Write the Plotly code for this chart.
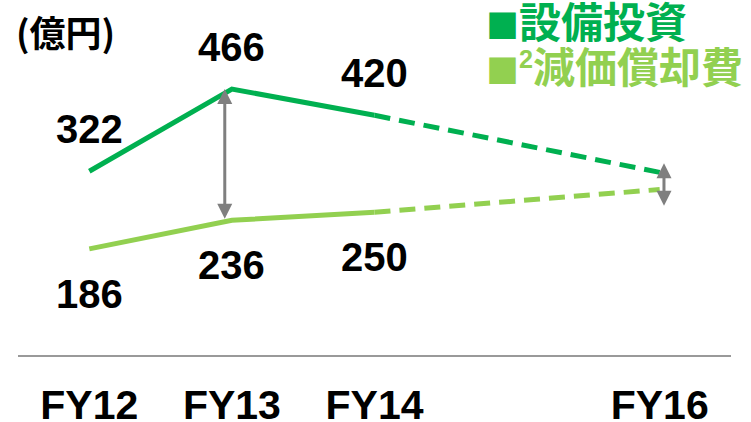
import plotly.graph_objects as go

# ---- data ----
years = [12, 13, 14, 16]
tick_labels = ["FY12", "FY13", "FY14", "FY16"]
capex = [322, 466, 420, 320]          # FY16 value estimated (not labelled)
depreciation = [186, 236, 250, 290]   # FY16 value estimated (not labelled)
labelled_points = 3                   # FY12..FY14 carry value labels
series_names = ["設備投資", "減価償却費"]
unit_label = "(億円)"

GREEN = "#00B050"
LIGHT = "#92D050"
GRAY = "#7F7F7F"
NUM_FONT = "Liberation Sans, Arial, sans-serif"
CJK_FONT = "Noto Sans CJK JP, sans-serif"

fig = go.Figure()

for vals, color, name in [(capex, GREEN, series_names[0]), (depreciation, LIGHT, series_names[1])]:
    fig.add_trace(go.Scatter(x=years[:3], y=vals[:3], mode="lines", name=name,
                             line=dict(color=color, width=5), showlegend=False,
                             hoverinfo="skip"))
    fig.add_trace(go.Scatter(x=years[2:], y=vals[2:], mode="lines", name=name + " (計画)",
                             line=dict(color=color, width=5, dash="16px,9px"), showlegend=False,
                             hoverinfo="skip"))

annotations = []
# value labels
for i in range(labelled_points):
    annotations.append(dict(x=years[i], y=capex[i], text=str(capex[i]), showarrow=False,
                            yshift=42, font=dict(family=NUM_FONT, size=40, color="black", weight="bold")))
    annotations.append(dict(x=years[i], y=depreciation[i], text=str(depreciation[i]), showarrow=False,
                            yshift=-45, font=dict(family=NUM_FONT, size=40, color="black", weight="bold")))

# gap arrows
arrow_style = dict(xref="x", yref="y", axref="x", ayref="y", text="", showarrow=True,
                   arrowside="end+start", arrowhead=2, startarrowhead=2, arrowsize=1.0,
                   startarrowsize=1.0, arrowwidth=3, arrowcolor=GRAY, standoff=0, startstandoff=0)
annotations.append(dict(x=12.95, y=capex[1], ax=12.95, ay=depreciation[1], **arrow_style))
annotations.append(dict(x=16.03, y=336, ax=16.03, ay=259, **arrow_style))

# legend-like labels
sq = "<span style='font-size:33px'>■</span>"
sup2 = "<span style='font-size:36px;font-family:Liberation Sans'><sup>2</sup></span>"
annotations.append(dict(xref="paper", yref="paper", x=0.654, y=0.944, xanchor="left", yanchor="middle",
                        text=sq + series_names[0], showarrow=False,
                        font=dict(family=CJK_FONT, size=42, color=GREEN, weight="bold")))
annotations.append(dict(xref="paper", yref="paper", x=0.654, y=0.817, xanchor="left", yanchor="middle",
                        text=sq + sup2 + series_names[1], showarrow=False,
                        font=dict(family=CJK_FONT, size=42, color=LIGHT, weight="bold")))
# unit label
annotations.append(dict(xref="paper", yref="paper", x=0.066, y=0.912, xanchor="center", yanchor="middle",
                        text=unit_label, showarrow=False,
                        font=dict(family=CJK_FONT, size=36, color="black", weight="bold")))

fig.update_layout(
    width=751, height=422,
    margin=dict(l=18, r=20, t=0, b=67, autoexpand=False),
    paper_bgcolor="white", plot_bgcolor="white",
    annotations=annotations,
    xaxis=dict(range=[11.5, 16.5], tickvals=years, ticktext=tick_labels, automargin=False,
               showline=True, linecolor="#999999", linewidth=2, showgrid=False, zeroline=False,
               ticks="", ticklabelstandoff=13,
               tickfont=dict(family=NUM_FONT, size=41, color="black", weight="bold")),
    yaxis=dict(range=[0, 622], visible=False, showgrid=False, zeroline=False, automargin=False),
)

fig.write_html("out.html", config={"displayModeBar": False},
               post_script="document.body.style.margin='0px';")
